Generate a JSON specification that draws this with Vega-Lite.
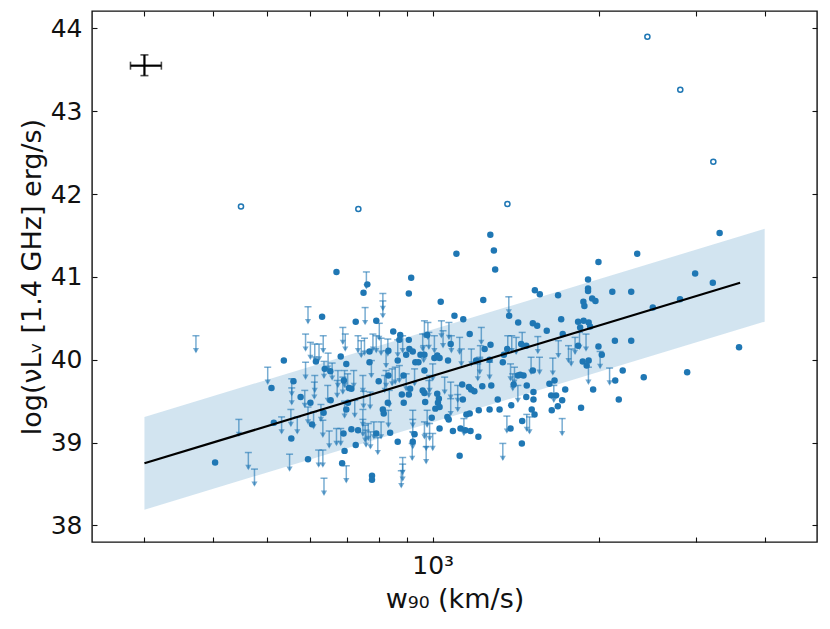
{
"$schema": "https://vega.github.io/schema/vega-lite/v6.json",
"width": 725, "height": 531,
"autosize": {"type": "none"},
"padding": {"left": 92, "top": 11, "right": 13, "bottom": 87},
"background": "white",
"config": {
  "font": "DejaVu Sans",
  "view": {"stroke": "#111", "strokeWidth": 1.4},
  "axis": {"grid": false, "domain": false, "tickColor": "#111", "tickWidth": 1.1, "labelColor": "#111", "titleColor": "#111", "labelFontSize": 25, "titleFontSize": 27, "titleFontWeight": "normal", "labelFont": "DejaVu Sans", "titleFont": "DejaVu Sans", "labelOverlap": false, "labelFlush": false}
},
"datasets": {
  "pts": [
    {"w":669,"L":41.06},{"w":630,"L":40.52},{"w":537,"L":39.99},{"w":614,"L":39.98},{"w":681,"L":40.04},{"w":725,"L":40.46},{"w":790,"L":40.47},{"w":848,"L":40.34},{"w":873,"L":40.30},{"w":637,"L":39.89},
    {"w":652,"L":39.86},{"w":768,"L":40.10},{"w":798,"L":39.74},{"w":510,"L":39.66},{"w":559,"L":39.74},{"w":576,"L":39.55},{"w":600,"L":39.48},{"w":690,"L":39.75},{"w":705,"L":39.66},{"w":702,"L":39.48},
    {"w":697,"L":39.40},{"w":634,"L":39.36},{"w":604,"L":39.22},{"w":515,"L":39.24},{"w":831,"L":40.11},{"w":885,"L":39.81},{"w":879,"L":39.58},{"w":886,"L":39.48},{"w":812,"L":39.40},{"w":815,"L":39.35},
    {"w":712,"L":39.16},{"w":554,"L":39.05},{"w":403,"L":38.76},{"w":594,"L":38.80},{"w":653,"L":39.51},{"w":689,"L":39.11},{"w":685,"L":38.75},{"w":692,"L":38.90},{"w":831,"L":39.81},{"w":905,"L":39.58},
    {"w":910,"L":39.65},{"w":829,"L":39.48},{"w":712,"L":39.65},{"w":732,"L":39.15},{"w":725,"L":38.97},{"w":790,"L":39.11},{"w":837,"L":39.12},{"w":864,"L":39.01},{"w":927,"L":39.10},{"w":920,"L":39.01},
    {"w":966,"L":39.87},{"w":959,"L":39.63},{"w":966,"L":39.60},{"w":969,"L":39.49},{"w":1019,"L":39.59},{"w":1026,"L":39.53},{"w":1022,"L":39.48},{"w":1011,"L":39.41},{"w":1029,"L":39.43},{"w":996,"L":39.30},
    {"w":1029,"L":39.17},{"w":1063,"L":39.31},{"w":1069,"L":39.28},{"w":1088,"L":39.14},{"w":1123,"L":39.17},{"w":1146,"L":39.15},{"w":1171,"L":39.14},{"w":1151,"L":39.34},{"w":1167,"L":39.35},{"w":1134,"L":39.52},
    {"w":1131,"L":39.70},{"w":1163,"L":39.67},{"w":1174,"L":39.64},{"w":1190,"L":39.62},{"w":1230,"L":39.68},{"w":1277,"L":39.69},{"w":1212,"L":39.39},{"w":1210,"L":39.07},{"w":1268,"L":39.40},{"w":1312,"L":39.52},
    {"w":1322,"L":39.40},{"w":1388,"L":39.45},{"w":1384,"L":39.17},{"w":1453,"L":39.26},{"w":1451,"L":38.99},{"w":1119,"L":38.84},{"w":776,"L":38.60},{"w":776,"L":38.55},{"w":1402,"L":39.70},{"w":1427,"L":39.81},
    {"w":1461,"L":39.81},{"w":1481,"L":39.69},{"w":1478,"L":39.55},{"w":1523,"L":39.61},{"w":1523,"L":39.52},{"w":1512,"L":39.40},{"w":1530,"L":39.34},{"w":1519,"L":39.87},{"w":1644,"L":39.39},{"w":1628,"L":39.71},
    {"w":697,"L":39.95},{"w":768,"L":39.97},{"w":930,"L":39.97},{"w":942,"L":39.97},{"w":1272,"L":41.51},{"w":1291,"L":41.32},{"w":1298,"L":41.09},{"w":1104,"L":41.28},{"w":914,"L":40.99},{"w":905,"L":40.80},
    {"w":761,"L":40.91},{"w":749,"L":40.81},{"w":1034,"L":40.70},{"w":1235,"L":40.72},{"w":1095,"L":40.53},{"w":1136,"L":40.49},{"w":1376,"L":40.53},{"w":1429,"L":40.45},{"w":1532,"L":40.84},{"w":1564,"L":40.79},
    {"w":1519,"L":40.44},{"w":1547,"L":40.41},{"w":1610,"L":40.35},{"w":870,"L":40.24},{"w":905,"L":40.24},{"w":907,"L":40.13},{"w":920,"L":40.10},{"w":895,"L":40.06},{"w":950,"L":40.06},{"w":966,"L":40.06},
    {"w":977,"L":40.30},{"w":1019,"L":40.05},{"w":1007,"L":40.02},{"w":1029,"L":40.02},{"w":1066,"L":39.99},{"w":1078,"L":40.19},{"w":1167,"L":40.31},{"w":1273,"L":40.18},{"w":1242,"L":40.13},{"w":1346,"L":40.06},
    {"w":1365,"L":40.13},{"w":1447,"L":40.19},{"w":1478,"L":40.17},{"w":864,"L":39.99},{"w":1268,"L":40.00},{"w":1340,"L":39.97},{"w":1199,"L":39.99},{"w":1441,"L":39.82},{"w":1663,"L":39.75},{"w":1674,"L":39.57},
    {"w":1717,"L":39.51},{"w":1686,"L":39.44},{"w":3314,"L":41.53},{"w":2349,"L":41.28},{"w":1998,"L":41.18},{"w":2992,"L":41.04},{"w":3221,"L":40.93},{"w":1913,"L":40.97},{"w":1913,"L":40.86},{"w":1913,"L":40.83},
    {"w":2117,"L":40.82},{"w":2291,"L":40.82},{"w":1688,"L":40.78},{"w":1946,"L":40.74},{"w":1973,"L":40.71},{"w":1876,"L":40.70},{"w":1884,"L":40.65},{"w":2507,"L":40.63},{"w":2809,"L":40.73},{"w":1710,"L":40.49},
    {"w":1835,"L":40.46},{"w":1878,"L":40.47},{"w":1918,"L":40.45},{"w":1851,"L":40.39},{"w":1930,"L":40.40},{"w":1721,"L":40.31},{"w":2140,"L":40.23},{"w":2291,"L":40.23},{"w":1998,"L":40.16},{"w":1835,"L":40.17},
    {"w":3594,"L":40.15},{"w":2026,"L":40.06},{"w":1871,"L":39.98},{"w":1918,"L":39.99},{"w":1902,"L":39.93},{"w":2211,"L":39.87},{"w":2414,"L":39.79},{"w":2894,"L":39.85},{"w":2143,"L":39.75},{"w":1739,"L":39.64},
    {"w":1954,"L":39.64},{"w":2175,"L":39.52},{"w":1858,"L":39.42},{"w":1640,"L":39.57}
  ],
  "ul": [
    {"w":372,"L":40.29},{"w":594,"L":40.64},{"w":687,"L":40.39},{"w":588,"L":40.31},{"w":633,"L":40.29},{"w":600,"L":40.21},{"w":611,"L":40.19},{"w":622,"L":40.19},{"w":646,"L":40.08},{"w":588,"L":39.97},
    {"w":635,"L":39.98},{"w":657,"L":39.96},{"w":754,"L":40.63},{"w":812,"L":40.71},{"w":742,"L":40.23},{"w":752,"L":40.26},{"w":779,"L":40.31},{"w":800,"L":40.44},{"w":790,"L":40.29},{"w":823,"L":40.11},
    {"w":806,"L":40.26},{"w":502,"L":39.91},{"w":555,"L":39.77},{"w":586,"L":39.63},{"w":610,"L":39.73},{"w":645,"L":39.69},{"w":671,"L":39.75},{"w":719,"L":39.87},{"w":673,"L":39.87},{"w":687,"L":39.79},
    {"w":823,"L":39.87},{"w":844,"L":39.89},{"w":749,"L":39.62},{"w":770,"L":39.61},{"w":834,"L":39.63},{"w":553,"L":39.40},{"w":568,"L":39.31},{"w":532,"L":39.31},{"w":594,"L":39.43},{"w":747,"L":39.40},
    {"w":831,"L":39.39},{"w":608,"L":39.37},{"w":555,"L":39.66},{"w":611,"L":39.81},{"w":445,"L":39.28},{"w":627,"L":39.46},{"w":632,"L":39.27},{"w":463,"L":38.88},{"w":475,"L":38.68},{"w":550,"L":38.86},
    {"w":621,"L":38.91},{"w":632,"L":38.91},{"w":649,"L":39.14},{"w":669,"L":39.17},{"w":681,"L":39.17},{"w":635,"L":38.57},{"w":697,"L":38.72},{"w":692,"L":39.87},{"w":701,"L":39.83},{"w":747,"L":39.81},
    {"w":774,"L":39.99},{"w":818,"L":39.81},{"w":855,"L":39.91},{"w":870,"L":39.93},{"w":895,"L":39.83},{"w":927,"L":39.89},{"w":987,"L":39.81},{"w":1000,"L":39.95},{"w":1051,"L":39.79},{"w":1078,"L":39.73},
    {"w":1110,"L":39.69},{"w":1110,"L":39.58},{"w":1078,"L":39.53},{"w":1139,"L":39.29},{"w":1207,"L":39.95},{"w":1268,"L":39.97},{"w":1407,"L":39.91},{"w":1427,"L":39.69},{"w":1384,"L":39.95},{"w":692,"L":39.50},
    {"w":722,"L":39.51},{"w":747,"L":39.28},{"w":754,"L":39.21},{"w":764,"L":39.23},{"w":782,"L":39.25},{"w":757,"L":39.15},{"w":771,"L":39.13},{"w":806,"L":39.25},{"w":795,"L":39.06},{"w":920,"L":39.28},
    {"w":977,"L":39.39},{"w":966,"L":39.25},{"w":987,"L":39.23},{"w":973,"L":39.11},{"w":1000,"L":39.11},{"w":920,"L":39.13},{"w":918,"L":38.99},{"w":973,"L":38.95},{"w":882,"L":38.82},{"w":882,"L":38.74},
    {"w":877,"L":38.66},{"w":1363,"L":39.32},{"w":1340,"L":38.99},{"w":1481,"L":39.34},{"w":1498,"L":39.31},{"w":758,"L":41.06},{"w":812,"L":40.80},{"w":1374,"L":40.76},{"w":966,"L":40.47},{"w":1037,"L":40.47},
    {"w":1070,"L":40.45},{"w":732,"L":40.29},{"w":829,"L":40.25},{"w":864,"L":40.24},{"w":882,"L":40.29},{"w":959,"L":40.31},{"w":984,"L":40.33},{"w":1007,"L":40.29},{"w":1044,"L":40.35},{"w":1081,"L":40.29},
    {"w":1119,"L":40.27},{"w":1225,"L":40.39},{"w":1368,"L":40.29},{"w":1391,"L":40.29},{"w":1417,"L":40.27},{"w":1453,"L":40.33},{"w":1551,"L":40.28},{"w":1220,"L":40.17},{"w":1127,"L":40.13},{"w":1175,"L":40.13},
    {"w":963,"L":40.17},{"w":694,"L":40.31},{"w":1508,"L":40.03},{"w":1562,"L":40.03},{"w":1217,"L":40.03},{"w":1690,"L":40.23},{"w":1763,"L":40.17},{"w":1783,"L":40.13},{"w":1812,"L":40.27},{"w":1897,"L":40.31},
    {"w":1846,"L":40.33},{"w":2012,"L":40.10},{"w":1651,"L":40.02},{"w":1916,"L":39.91},{"w":2093,"L":39.90},{"w":1658,"L":39.69},{"w":1717,"L":39.29},{"w":980,"L":40.45},{"w":1397,"L":39.83},{"w":984,"L":39.75},
    {"w":920,"L":39.39}
  ],
  "open": [
    {"w":449,"L":41.85},{"w":733,"L":41.82},{"w":1366,"L":41.88},{"w":2451,"L":43.90},{"w":2812,"L":43.26},{"w":3228,"L":42.39}
  ],
  "band": [
    {"w":300,"L":39.31,"lo":38.19},{"w":4000,"L":41.58,"lo":40.46}
  ],
  "fit": [
    {"w":300,"L":38.75},{"w":3610,"L":40.93}
  ],
  "errh": [{"w":283,"w2":322,"L":43.55}],
  "errv": [{"w":300,"L":43.43,"L2":43.68}],
  "capx": [{"w":283,"L":43.55},{"w":322,"L":43.55}],
  "capy": [{"w":300,"L":43.43},{"w":300,"L":43.68}]
},
"resolve": {"axis": {"x": "independent", "y": "independent"}},
"layer": [
  {
    "encoding": {
      "x": {"field": "w", "type": "quantitative",
            "scale": {"type": "log", "domain": [241, 4977], "nice": false},
            "axis": {"orient": "bottom", "values": [300,400,500,600,700,800,900,1000,2000,3000,4000],
                     "labelExpr": "datum.value == 1000 ? '10³' : ''", "tickSize": -5, "labelPadding": 16,
                     "title": "w₉₀ (km/s)", "titlePadding": 8}},
      "y": {"field": "L", "type": "quantitative",
            "scale": {"domain": [37.8, 44.21], "nice": false, "zero": false},
            "axis": {"orient": "left", "values": [38,39,40,41,42,43,44], "tickSize": -5, "labelPadding": 15,
                     "title": "log(νLᵥ [1.4 GHz] erg/s)", "titlePadding": 4}}
    },
    "layer": [
      {"data": {"name": "band"}, "mark": {"type": "area", "color": "#1f77b4", "opacity": 0.2}, "encoding": {"y2": {"field": "lo"}}},
      {"data": {"name": "ul"}, "mark": {"type": "rule", "color": "#1f77b4", "opacity": 0.6, "strokeWidth": 1.5, "y2Offset": 16}, "encoding": {"y2": {"field": "L"}}},
      {"data": {"name": "ul"}, "mark": {"type": "tick", "orient": "horizontal", "color": "#1f77b4", "opacity": 0.6, "size": 7, "thickness": 1.5}},
      {"data": {"name": "ul"}, "mark": {"type": "point", "shape": "triangle-down", "filled": true, "color": "#1f77b4", "opacity": 0.6, "size": 38, "yOffset": 15}},
      {"data": {"name": "pts"}, "mark": {"type": "circle", "color": "#1f77b4", "opacity": 1, "size": 42}},
      {"data": {"name": "open"}, "mark": {"type": "point", "shape": "circle", "filled": false, "color": "#1f77b4", "opacity": 1, "size": 26, "strokeWidth": 1.5}},
      {"data": {"name": "errh"}, "mark": {"type": "rule", "color": "#000", "strokeWidth": 2.2}, "encoding": {"x2": {"field": "w2"}}},
      {"data": {"name": "errv"}, "mark": {"type": "rule", "color": "#000", "strokeWidth": 2.2}, "encoding": {"y2": {"field": "L2"}}},
      {"data": {"name": "capx"}, "mark": {"type": "tick", "orient": "vertical", "color": "#000", "size": 8, "thickness": 1.6}},
      {"data": {"name": "capy"}, "mark": {"type": "tick", "orient": "horizontal", "color": "#000", "size": 8, "thickness": 1.6}}
    ]
  },
  {
    "data": {"name": "fit"},
    "mark": {"type": "line", "color": "#000", "strokeWidth": 2.2},
    "encoding": {
      "x": {"field": "w", "type": "quantitative",
            "scale": {"type": "log", "domain": [241, 4977], "nice": false},
            "axis": {"orient": "top", "values": [300,400,500,600,700,800,900,1000,2000,3000,4000], "labels": false, "tickSize": -5, "title": null}},
      "y": {"field": "L", "type": "quantitative",
            "scale": {"domain": [37.8, 44.21], "nice": false, "zero": false},
            "axis": {"orient": "right", "values": [38,39,40,41,42,43,44], "labels": false, "tickSize": -5, "title": null}}
    }
  }
]
}
